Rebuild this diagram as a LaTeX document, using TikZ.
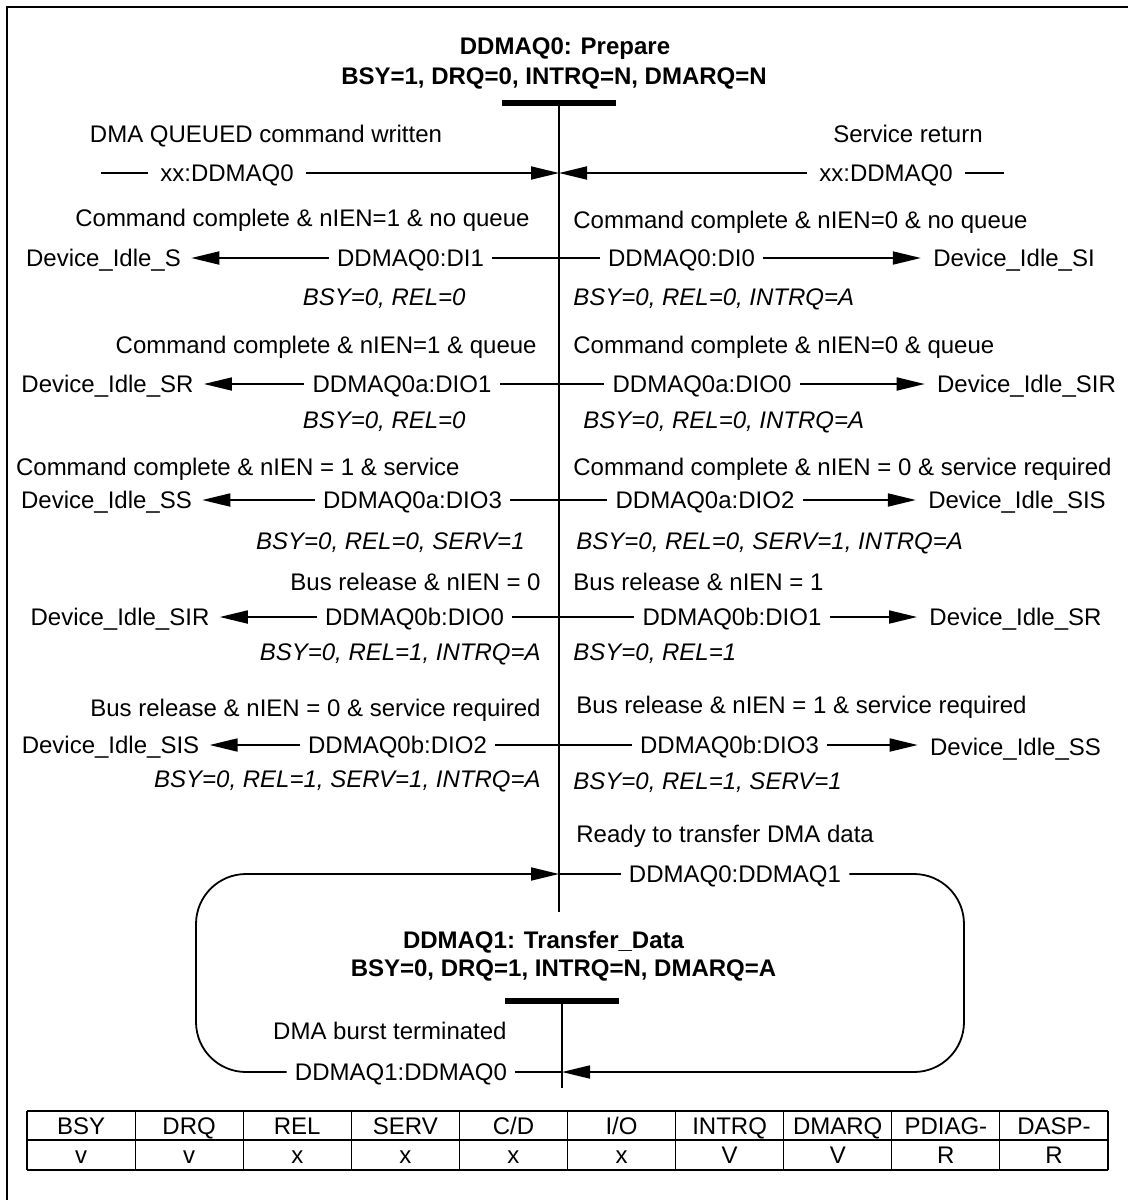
\documentclass[tikz,border=0pt]{standalone}
\usepackage{fontspec}
\setmainfont{Liberation Sans}
\usetikzlibrary{arrows.meta}
\newcommand\fs{\fontsize{12pt}{14pt}\selectfont}
\begin{document}
\begin{tikzpicture}[x=0.5pt,y=-0.5pt,
  txt/.style={inner sep=0pt, text height=10.3pt, text depth=1.7pt, font=\fs},
  lbl/.style={txt, inner xsep=4pt},
  xlbl/.style={txt, inner xsep=6pt},
  itx/.style={txt, font=\fs\itshape},
  bfx/.style={txt, font=\fs\bfseries},
  ln/.style={line width=0.9pt},
  arr/.style={ln, -{Triangle[length=14pt,width=6.5pt]}},
  arrL/.style={arr, shorten >=5pt},
  arrR/.style={arr, shorten >=6pt},
  statebar/.style={fill=black, inner sep=0pt, minimum width=57pt, minimum height=3pt},
  hl/.style={line width=1pt},
  vl/.style={line width=0.5pt}
]
\useasboundingbox (0,0) rectangle (1128,1200);
\fill[white] (0,0) rectangle (1128,1200);
\draw[line width=1.15pt] (7,1200) -- (7,7) -- (1128,7);

% ---------- State DDMAQ0 ----------
\node[bfx] (t0a) at (565,46) {DDMAQ0: Prepare};
\node[bfx] (t0b) at (554,76) {BSY=1, DRQ=0, INTRQ=N, DMARQ=N};
\node[statebar] (bar0) at (559,103) {};
\coordinate (v0end) at (559,912);
\draw[ln] (bar0.center) -- (v0end);

\coordinate (vA) at (559,173);
\coordinate (vr1) at (559,258);
\coordinate (vr2) at (559,384);
\coordinate (vr3) at (559,500);
\coordinate (vr4) at (559,617);
\coordinate (vr5) at (559,745);
\coordinate (vq) at (559,874);

% ---------- entry transitions ----------
\node[txt] (cA) at (266,134) {DMA QUEUED command written};
\node[txt] (cB) at (908,134) {Service return};
\node[xlbl] (xxL) at (227,173) {xx:DDMAQ0};
\node[xlbl] (xxR) at (886,173) {xx:DDMAQ0};
\coordinate (sL) at (101,173);
\coordinate (sR) at (1004,173);
\draw[ln] (sL) -- (xxL.west);
\draw[arr] (xxL.east) -- (vA);
\draw[arr] (xxR.west) -- (vA);
\draw[ln] (xxR.east) -- (sR);

% ---------- row 1 ----------
\node[txt, anchor=east] (cL1) at (530,218) {Command complete \& nIEN=1 \& no queue};
\node[txt, anchor=west] (cR1) at (573,220) {Command complete \& nIEN=0 \& no queue};
\node[txt] (gL1) at (103.5,258) {Device\_Idle\_S};
\node[lbl] (lL1) at (410.5,258) {DDMAQ0:DI1};
\node[lbl] (lR1) at (681.5,258) {DDMAQ0:DI0};
\node[txt] (gR1) at (1014,258) {Device\_Idle\_SI};
\node[itx, anchor=east] (aL1) at (466,297) {BSY=0, REL=0};
\node[itx, anchor=west] (aR1) at (573,297) {BSY=0, REL=0, INTRQ=A};

% ---------- row 2 ----------
\node[txt, anchor=east] (cL2) at (537,345) {Command complete \& nIEN=1 \& queue};
\node[txt, anchor=west] (cR2) at (573,345) {Command complete \& nIEN=0 \& queue};
\node[txt] (gL2) at (107.5,384) {Device\_Idle\_SR};
\node[lbl] (lL2) at (402,384) {DDMAQ0a:DIO1};
\node[lbl] (lR2) at (702,384) {DDMAQ0a:DIO0};
\node[txt] (gR2) at (1026.5,384) {Device\_Idle\_SIR};
\node[itx, anchor=east] (aL2) at (466,420) {BSY=0, REL=0};
\node[itx, anchor=west] (aR2) at (583,420) {BSY=0, REL=0, INTRQ=A};

% ---------- row 3 ----------
\node[txt, anchor=east] (cL3) at (460,467) {Command complete \& nIEN = 1 \& service};
\node[txt, anchor=west] (cR3) at (573,467) {Command complete \& nIEN = 0 \& service required};
\node[txt] (gL3) at (106.5,500) {Device\_Idle\_SS};
\node[lbl] (lL3) at (412.5,500) {DDMAQ0a:DIO3};
\node[lbl] (lR3) at (705,500) {DDMAQ0a:DIO2};
\node[txt] (gR3) at (1017,500) {Device\_Idle\_SIS};
\node[itx, anchor=east] (aL3) at (525,541) {BSY=0, REL=0, SERV=1};
\node[itx, anchor=west] (aR3) at (576,541) {BSY=0, REL=0, SERV=1, INTRQ=A};

% ---------- row 4 ----------
\node[txt, anchor=east] (cL4) at (541,582) {Bus release \& nIEN = 0};
\node[txt, anchor=west] (cR4) at (573,582) {Bus release \& nIEN = 1};
\node[txt] (gL4) at (120,617) {Device\_Idle\_SIR};
\node[lbl] (lL4) at (414.5,617) {DDMAQ0b:DIO0};
\node[lbl] (lR4) at (732,617) {DDMAQ0b:DIO1};
\node[txt] (gR4) at (1015.5,617) {Device\_Idle\_SR};
\node[itx, anchor=east] (aL4) at (541,652) {BSY=0, REL=1, INTRQ=A};
\node[itx, anchor=west] (aR4) at (573,652) {BSY=0, REL=1};

% ---------- row 5 ----------
\node[txt, anchor=east] (cL5) at (541,708) {Bus release \& nIEN = 0 \& service required};
\node[txt, anchor=west] (cR5) at (576,705) {Bus release \& nIEN = 1 \& service required};
\node[txt] (gL5) at (110.5,745) {Device\_Idle\_SIS};
\node[lbl] (lL5) at (397.5,745) {DDMAQ0b:DIO2};
\node[lbl] (lR5) at (729.5,745) {DDMAQ0b:DIO3};
\node[txt] (gR5) at (1015.5,747) {Device\_Idle\_SS};
\node[itx, anchor=east] (aL5) at (541,779) {BSY=0, REL=1, SERV=1, INTRQ=A};
\node[itx, anchor=west] (aR5) at (573,781) {BSY=0, REL=1, SERV=1};

\foreach \r in {1,...,5}{
  \draw[ln] (vr\r) -- (lL\r.east);
  \draw[arrL] (lL\r.west) -- (gL\r.east |- lL\r.west);
  \draw[ln] (vr\r) -- (lR\r.west);
  \draw[arrR] (lR\r.east) -- (gR\r.west |- lR\r.east);
}

% ---------- DDMAQ1 loop ----------
\node[txt, anchor=west] (c6) at (576,834) {Ready to transfer DMA data};
\node[lbl] (l6) at (735,874) {DDMAQ0:DDMAQ1};
\node[bfx] (t1a) at (543.5,940) {DDMAQ1: Transfer\_Data};
\node[bfx] (t1b) at (563.5,968) {BSY=0, DRQ=1, INTRQ=N, DMARQ=A};
\node[statebar] (bar1) at (562,1001) {};
\coordinate (v1end) at (562,1088);
\draw[ln] (bar1.center) -- (v1end);
\node[txt, anchor=east] (c7) at (507,1031) {DMA burst terminated};
\node[lbl] (l7) at (401,1072) {DDMAQ1:DDMAQ0};

\coordinate (kTL) at (196,874);
\coordinate (kTR) at (964,874);
\coordinate (kBR) at (964,1072);
\coordinate (kBL) at (196,1072);
\coordinate (v1b) at (562,1072);

\draw[ln] (vq) -- (l6.west);
\draw[arr, rounded corners=25pt] (l6.east) -- (kTR) -- (kBR) -- (v1b);
\draw[ln] (v1b) -- (l7.east);
\draw[arr, rounded corners=25pt] (l7.west) -- (kBL) -- (kTL) -- (vq);

% ---------- table ----------
\draw[hl] (27,1111) -- (1108,1111);
\draw[hl] (27,1140) -- (1108,1140);
\draw[hl] (27,1170) -- (1108,1170);
\draw[hl] (27,1111) -- (27,1170);
\draw[hl] (1108,1111) -- (1108,1170);
\foreach \i in {1,...,9}{
  \draw[vl] ({27+108.1*\i},1111) -- ({27+108.1*\i},1170);
}
\node[txt] (h1) at (81.05,1125.5) {BSY};
\node[txt] (h2) at (189.15,1125.5) {DRQ};
\node[txt] (h3) at (297.25,1125.5) {REL};
\node[txt] (h4) at (405.35,1125.5) {SERV};
\node[txt] (h5) at (513.45,1125.5) {C/D};
\node[txt] (h6) at (621.55,1125.5) {I/O};
\node[txt] (h7) at (729.65,1125.5) {INTRQ};
\node[txt] (h8) at (837.75,1125.5) {DMARQ};
\node[txt] (h9) at (945.85,1125.5) {PDIAG-};
\node[txt] (h10) at (1053.95,1125.5) {DASP-};
\node[txt] (w1) at (81.05,1155) {v};
\node[txt] (w2) at (189.15,1155) {v};
\node[txt] (w3) at (297.25,1155) {x};
\node[txt] (w4) at (405.35,1155) {x};
\node[txt] (w5) at (513.45,1155) {x};
\node[txt] (w6) at (621.55,1155) {x};
\node[txt] (w7) at (729.65,1155) {V};
\node[txt] (w8) at (837.75,1155) {V};
\node[txt] (w9) at (945.85,1155) {R};
\node[txt] (w10) at (1053.95,1155) {R};
\end{tikzpicture}
\end{document}
